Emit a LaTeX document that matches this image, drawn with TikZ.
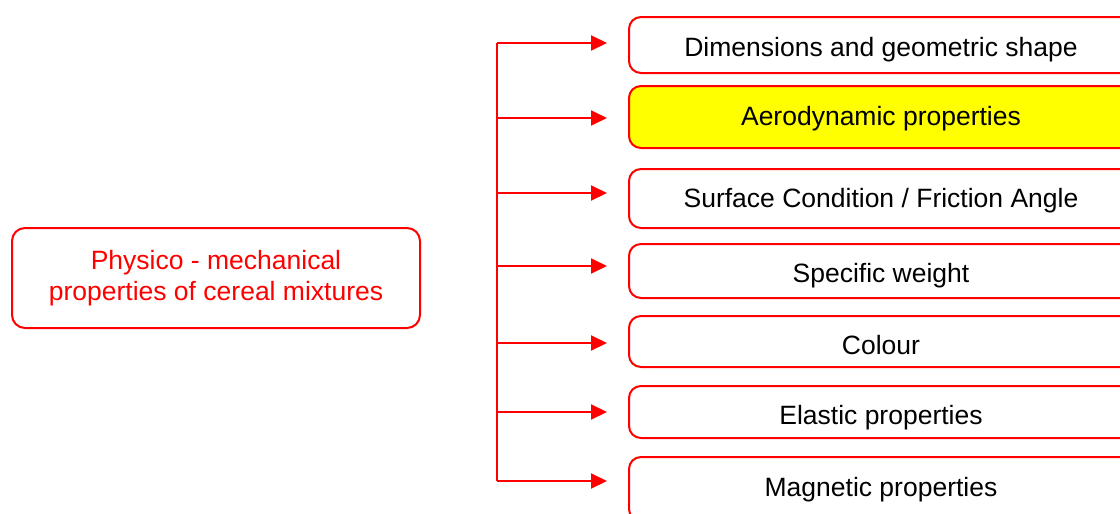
\documentclass[tikz,border=0pt]{standalone}
\usepackage{fontspec}
\setmainfont{Liberation Sans}
\usetikzlibrary{arrows.meta}
\definecolor{pred}{RGB}{255,0,0}
\definecolor{pyel}{RGB}{255,255,0}
\begin{document}
\begin{tikzpicture}[x=1pt,y=-1pt,
  propbox/.style={draw=pred, line width=2pt, rounded corners=12pt, inner sep=0pt, minimum width=504pt},
  srcbox/.style={draw=pred, line width=2pt, rounded corners=13pt, inner sep=0pt, minimum width=408pt, minimum height=100pt},
  lbl/.style={font=\fontsize{26.5}{31}\selectfont, text=black, inner sep=0pt, anchor=base},
  srclbl/.style={font=\fontsize{26.5}{31}\selectfont, text=pred, inner sep=0pt, anchor=base},
  trunk/.style={draw=pred, line width=2pt},
  arr/.style={draw=pred, line width=2pt, -{Triangle[length=16pt,width=15pt]}}
]
\useasboundingbox (0,0) rectangle (1120,514);
\clip (0,0) rectangle (1120,514);
\fill[white] (0,0) rectangle (1120,514);

% source box
\node[srcbox] (src) at (216,278) {};
\node[srclbl] (srcA) at (216,269) {Physico - mechanical};
\node[srclbl] (srcB) at (216,300) {properties of cereal mixtures};

% property boxes
\node[propbox, minimum height=56pt] (b1) at (881,45) {};
\node[propbox, minimum height=62pt, fill=pyel] (b2) at (881,117) {};
\node[propbox, minimum height=59pt] (b3) at (881,198.5) {};
\node[propbox, minimum height=54pt] (b4) at (881,271) {};
\node[propbox, minimum height=51pt] (b5) at (881,341.5) {};
\node[propbox, minimum height=52pt] (b6) at (881,412) {};
\node[propbox, minimum height=64pt] (b7) at (881,489) {};

\node[lbl] (t1) at (881,56) {Dimensions and geometric shape};
\node[lbl] (t2) at (881,125) {Aerodynamic properties};
\node[lbl] (t3) at (881,207) {Surface Condition / Friction Angle};
\node[lbl] (t4) at (881,282) {Specific weight};
\node[lbl] (t5) at (881,354) {Colour};
\node[lbl] (t6) at (881,424) {Elastic properties};
\node[lbl] (t7) at (881,496) {Magnetic properties};

% trunk
\coordinate (top) at (497,43);
\coordinate (bot) at (497,481);
\draw[trunk] (top) -- (bot);

% arrows
\foreach \i/\yy in {1/43,2/118,3/193,4/266,5/343,6/412,7/481}{
  \coordinate (s\i) at (497,\yy);
  \coordinate (e\i) at (607,\yy);
  \draw[arr] (s\i) -- (e\i);
}
\end{tikzpicture}
\end{document}
